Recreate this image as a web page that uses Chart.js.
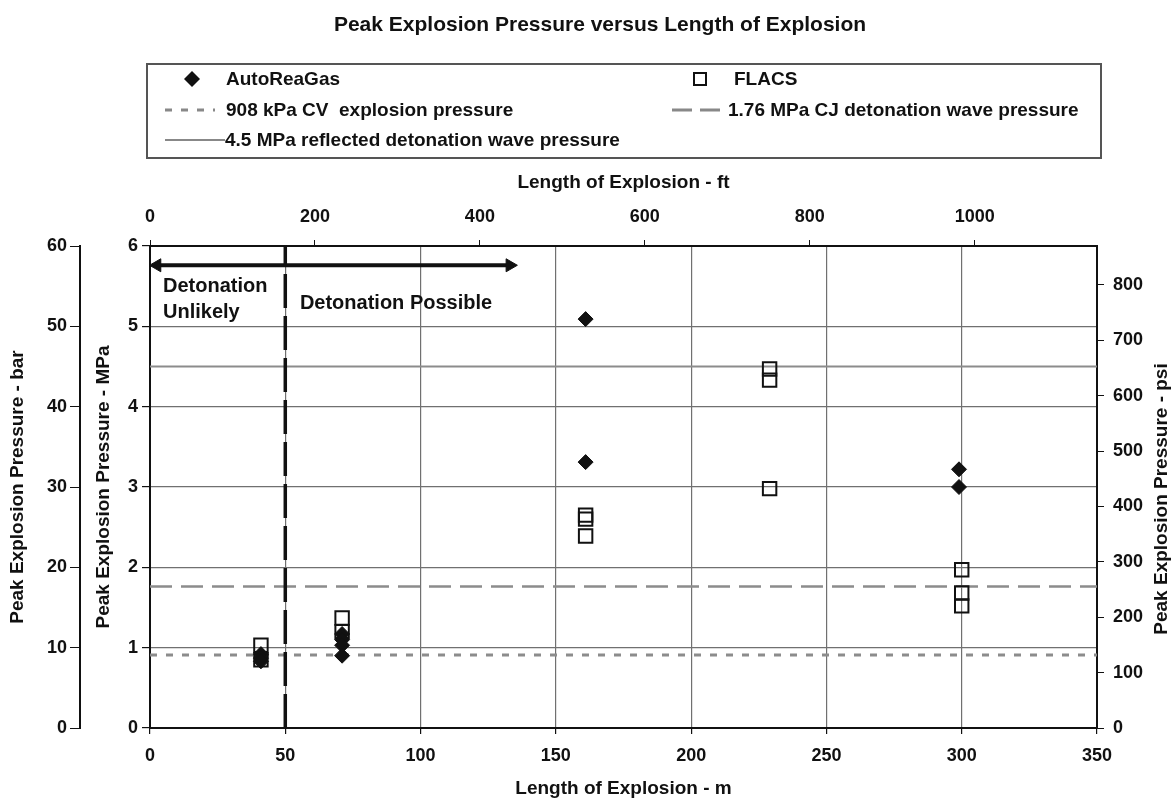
<!DOCTYPE html>
<html><head><meta charset="utf-8">
<script src="https://cdn.jsdelivr.net/npm/chart.js@4.4.0/dist/chart.umd.min.js"></script>
<style>
html,body{margin:0;padding:0;background:#fff;}
#wrap{position:relative;width:1173px;height:800px;font-family:"Liberation Sans",Arial,sans-serif;font-weight:bold;color:#111;overflow:hidden;}
#c{position:absolute;left:0;top:0;}
#title{position:absolute;left:0;width:1200px;top:12px;text-align:center;font-size:21px;line-height:24px;}
#legend{position:absolute;left:146px;top:63px;width:952px;height:92px;border:2px solid #555;}
.li{position:absolute;font-size:19px;line-height:22px;white-space:nowrap;}
svg.sym{position:absolute;overflow:visible;}
</style></head>
<body>
<div id="wrap">
<canvas id="c" width="1173" height="800"></canvas>
<div id="title">Peak Explosion Pressure versus Length of Explosion</div>
<div id="legend"></div>
<svg class="sym" style="left:184px;top:71px" width="16" height="16"><polygon points="8,0 16,8 8,16 0,8" fill="#111"/></svg>
<div class="li" style="left:226px;top:68px">AutoReaGas</div>
<svg class="sym" style="left:693px;top:72px" width="14" height="14"><rect x="1" y="1" width="12" height="12" fill="none" stroke="#111" stroke-width="2"/></svg>
<div class="li" style="left:734px;top:68px">FLACS</div>
<svg class="sym" style="left:163px;top:106px" width="52" height="8"><line x1="2" y1="4" x2="52" y2="4" stroke="#888" stroke-width="3" stroke-dasharray="7 9"/></svg>
<div class="li" style="left:226px;top:99px">908 kPa CV&nbsp; explosion pressure</div>
<svg class="sym" style="left:670px;top:106px" width="57" height="8"><line x1="2" y1="4" x2="57" y2="4" stroke="#888" stroke-width="3" stroke-dasharray="20 8"/></svg>
<div class="li" style="left:728px;top:99px">1.76 MPa CJ detonation wave pressure</div>
<svg class="sym" style="left:163px;top:136px" width="62" height="8"><line x1="2" y1="4" x2="62" y2="4" stroke="#888" stroke-width="2"/></svg>
<div class="li" style="left:225px;top:129px">4.5 MPa reflected detonation wave pressure</div>
</div>
<script>
// ---- data (x in metres, y in MPa) ----
const autoX = [41, 41, 41, 71, 71, 71, 71, 161, 161, 299, 299];
const autoY = [0.92, 0.87, 0.83, 1.17, 1.10, 1.03, 0.90, 5.09, 3.31, 3.22, 3.00];
const flacsX = [41, 41, 71, 71, 161, 161, 161, 229, 229, 229, 300, 300, 300];
const flacsY = [1.03, 0.85, 1.37, 1.20, 2.65, 2.60, 2.39, 4.47, 4.33, 2.98, 1.97, 1.68, 1.52];
const cvPressure = 0.908;
const cjPressure = 1.76;
const reflectedPressure = 4.5;
const lengthRange = [0, 350];
const boundaryX = 50;
const arrowX = [2.6, 133];
const arrowY = 5.76;
const noteTexts = ['Detonation', 'Unlikely', 'Detonation Possible'];
const noteX = [4.8, 4.8, 55.4];
const noteY = [5.5, 5.17, 5.29];
// tick labels
const mTicks = [0, 50, 100, 150, 200, 250, 300, 350];
const mpaTicks = [0, 1, 2, 3, 4, 5, 6];
const barTicks = [0, 10, 20, 30, 40, 50, 60];
const psiTicks = [0, 100, 200, 300, 400, 500, 600, 700, 800];
const ftTicks = [0, 200, 400, 600, 800, 1000];
const psiTitle = 'Peak Explosion Pressure - psi';
const PSI_PER_MPA = 145.0377;
const M_PER_FT = 0.3048;

const pts = (xs, ys) => xs.map((x, i) => ({x: x, y: ys[i]}));
const hline = v => lengthRange.map(x => ({x: x, y: v}));

const FONT = {family: '"Liberation Sans", Arial, sans-serif', weight: 'bold', size: 18};
const TFONT = {family: '"Liberation Sans", Arial, sans-serif', weight: 'bold', size: 19};
const INK = '#111';
const GRID = '#707070';
const plain = v => String(v);

const notesPlugin = {
  id: 'notes',
  afterDatasetsDraw(chart) {
    const ctx = chart.ctx, xs = chart.scales.x, ys = chart.scales.y;
    ctx.save();
    ctx.font = 'bold 20px "Liberation Sans", Arial, sans-serif';
    ctx.fillStyle = INK;
    ctx.textBaseline = 'middle';
    ctx.textAlign = 'left';
    noteTexts.forEach((t, i) => ctx.fillText(t, xs.getPixelForValue(noteX[i]), ys.getPixelForValue(noteY[i])));
    // right-axis title, reading bottom-to-top
    const ps = chart.scales.ypsi;
    ctx.font = 'bold 19px "Liberation Sans", Arial, sans-serif';
    ctx.textAlign = 'center';
    ctx.translate(ps.right - 11, (ps.top + ps.bottom) / 2 + 12);
    ctx.rotate(-Math.PI / 2);
    ctx.fillText(psiTitle, 0, 0);
    ctx.restore();
  }
};

new Chart(document.getElementById('c'), {
  type: 'scatter',
  data: {
    datasets: [
      {label: 'AutoReaGas', data: pts(autoX, autoY), pointStyle: 'rectRot', pointRadius: 7.5, pointHoverRadius: 7.5,
       backgroundColor: INK, borderColor: INK, borderWidth: 1, order: 0},
      {label: 'FLACS', data: pts(flacsX, flacsY), pointStyle: 'rect', pointRadius: 9.5, pointHoverRadius: 9.5,
       backgroundColor: 'rgba(0,0,0,0)', borderColor: INK, borderWidth: 2, order: 1},
      {label: '908 kPa CV  explosion pressure', data: hline(cvPressure), showLine: true, pointRadius: 0,
       borderColor: '#8c8c8c', borderWidth: 3, borderDash: [7, 9], order: 6},
      {label: '1.76 MPa CJ detonation wave pressure', data: hline(cjPressure), showLine: true, pointRadius: 0,
       borderColor: '#8c8c8c', borderWidth: 2.5, borderDash: [22, 9], order: 6},
      {label: '4.5 MPa reflected detonation wave pressure', data: hline(reflectedPressure), showLine: true, pointRadius: 0,
       borderColor: '#8c8c8c', borderWidth: 2, order: 6},
      {label: 'boundary', data: [{x: boundaryX, y: 0}, {x: boundaryX, y: 6}], showLine: true, pointRadius: 0,
       borderColor: INK, borderWidth: 3.5, borderDash: [34, 8], order: 3},
      {label: 'arrow', data: arrowX.map(x => ({x: x, y: arrowY})), showLine: true, borderColor: INK, borderWidth: 4,
       pointStyle: 'triangle', pointRadius: 7.5, pointRotation: [-90, 90], backgroundColor: INK, pointBorderWidth: 1, order: 3}
    ]
  },
  options: {
    responsive: false, animation: false, devicePixelRatio: 1,
    layout: {padding: {top: 165, left: 0, right: 0, bottom: 0}},
    plugins: {legend: {display: false}, tooltip: {enabled: false}, title: {display: false}},
    scales: {
      x: {type: 'linear', position: 'bottom', min: lengthRange[0], max: lengthRange[1],
          afterBuildTicks: s => { s.ticks = mTicks.map(v => ({value: v})); },
          ticks: {font: FONT, color: INK, padding: 11, callback: plain},
          grid: {color: GRID, lineWidth: 1.2, tickColor: INK, tickLength: 6},
          border: {color: INK, width: 2},
          title: {display: true, text: 'Length of Explosion - m', font: TFONT, color: INK, padding: {top: 0, bottom: 0}},
          afterFit: s => { s.height = 72; }},
      xft: {type: 'linear', position: 'top', min: 0, max: lengthRange[1] / M_PER_FT,
          afterBuildTicks: s => { s.ticks = ftTicks.map(v => ({value: v})); },
          ticks: {font: FONT, color: INK, padding: 12, callback: plain},
          grid: {drawOnChartArea: false, tickColor: INK, tickLength: 6},
          border: {color: INK, width: 2},
          title: {display: true, text: 'Length of Explosion - ft', font: TFONT, color: INK, padding: {top: 6, bottom: 0}},
          afterFit: s => { s.height = 81; }},
      y: {type: 'linear', position: 'left', weight: 0, min: 0, max: 6,
          afterBuildTicks: s => { s.ticks = mpaTicks.map(v => ({value: v})); },
          ticks: {font: FONT, color: INK, padding: 4, callback: plain},
          grid: {color: GRID, lineWidth: 1.2, tickColor: INK, tickLength: 8},
          border: {color: INK, width: 2},
          title: {display: true, text: 'Peak Explosion Pressure - MPa', font: TFONT, color: INK, padding: {top: 12, bottom: 0}},
          afterFit: s => { s.width = 70; }},
      ybar: {type: 'linear', position: 'left', weight: 5, min: 0, max: 60,
          afterBuildTicks: s => { s.ticks = barTicks.map(v => ({value: v})); },
          ticks: {font: FONT, color: INK, padding: 3, callback: plain},
          grid: {drawOnChartArea: false, color: INK, tickColor: INK, tickLength: 10},
          border: {color: INK, width: 2},
          title: {display: true, text: 'Peak Explosion Pressure - bar', font: TFONT, color: INK, padding: {top: 6, bottom: 0}},
          afterFit: s => { s.width = 80; }},
      ypsi: {type: 'linear', position: 'right', min: 0, max: 6 * PSI_PER_MPA,
          afterBuildTicks: s => { s.ticks = psiTicks.map(v => ({value: v})); },
          ticks: {font: FONT, color: INK, padding: 9, callback: plain},
          grid: {drawOnChartArea: false, color: INK, tickColor: INK, tickLength: 7},
          border: {color: INK, width: 2},
          title: {display: false},
          afterFit: s => { s.width = 76; }}
    }
  },
  plugins: [notesPlugin]
});
</script>
</body></html>
